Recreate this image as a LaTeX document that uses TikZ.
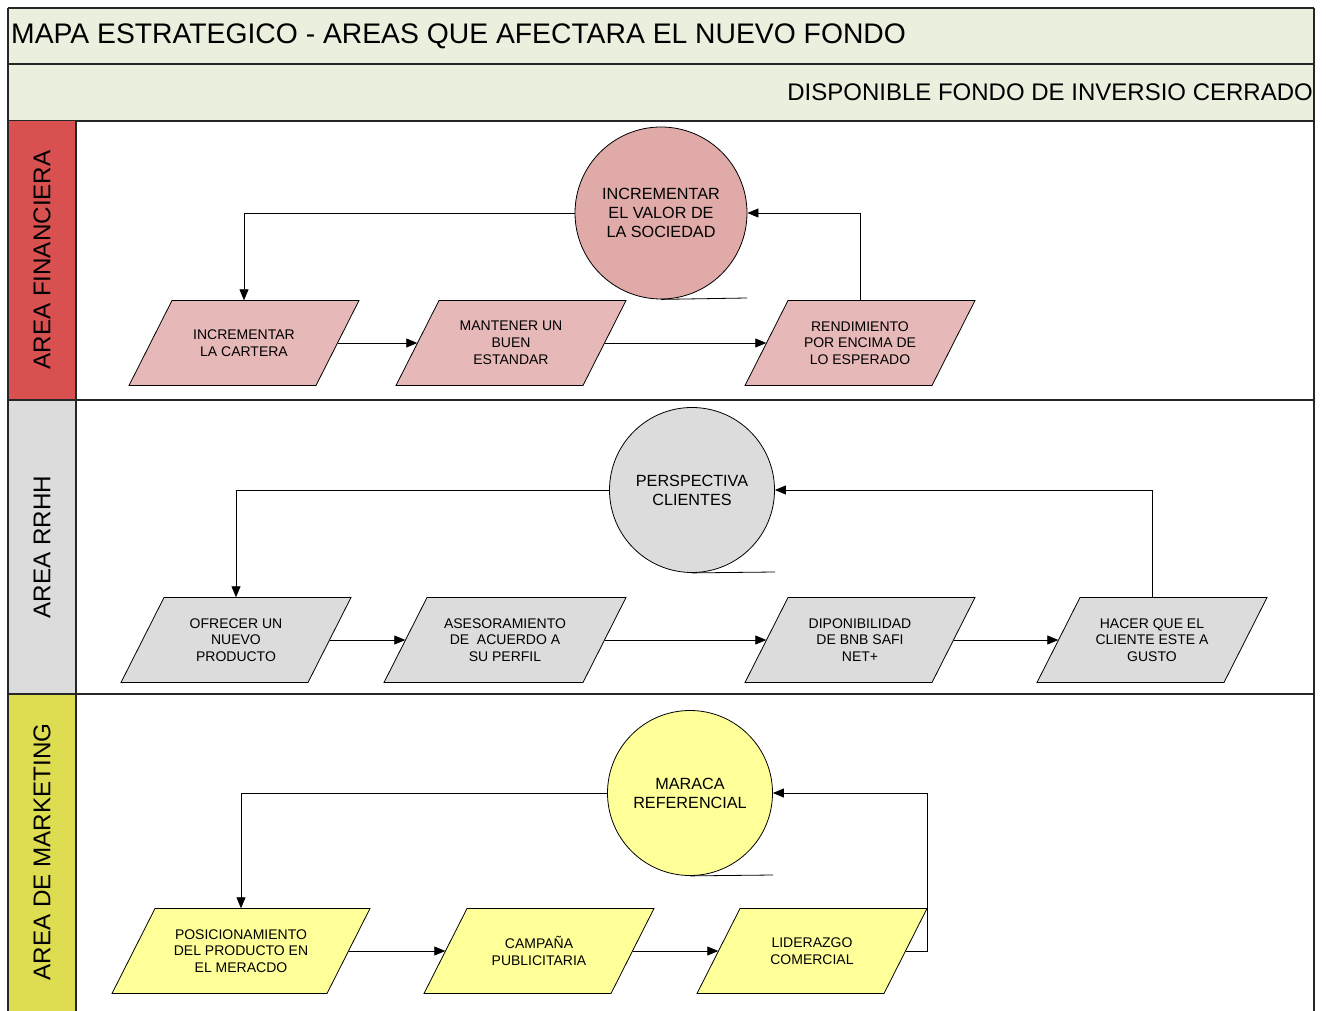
\documentclass[tikz,border=0pt]{standalone}
\usepackage{fontspec}
\setmainfont{Liberation Sans}
\usetikzlibrary{arrows.meta}
\definecolor{hdr}{HTML}{EBEFDE}
\definecolor{finlab}{HTML}{D95050}
\definecolor{fincirc}{HTML}{E0AAA8}
\definecolor{finpara}{HTML}{E6B9B8}
\definecolor{rhlab}{HTML}{DCDCDC}
\definecolor{rhfill}{HTML}{DCDCDC}
\definecolor{mklab}{HTML}{DEDC50}
\definecolor{mkfill}{HTML}{FFFF99}
\newcommand\parabox[6]{%
  \filldraw[fill=#5, draw=black, line width=0.8pt]
    ({#2-#4/2+21.5},{#3-42.5}) -- ({#2+#4/2+21.5},{#3-42.5}) --
    ({#2+#4/2-21.5},{#3+42.5}) -- ({#2-#4/2-21.5},{#3+42.5}) -- cycle;
  \node[ptext, minimum width=#4pt] (#1) at (#2,#3) {#6};}
\begin{document}
\begin{tikzpicture}[x=1pt,y=-1pt,
  ptext/.style={draw=none, minimum height=85pt, inner sep=0pt, align=center,
     font=\fontsize{14}{16.8}\selectfont},
  ctext/.style={circle, draw=black, line width=0.8pt, minimum size=#1, inner sep=0pt,
     align=center, font=\fontsize{16.2}{19}\selectfont},
  lanelab/.style={rotate=90, font=\fontsize{24.2}{28}\selectfont},
  arr/.style={-{Triangle[length=11pt,width=9pt]}, line width=0.8pt},
  conn/.style={line width=0.8pt},
  frame/.style={line width=1.3pt, draw=black!85}]
\useasboundingbox (0,0) rectangle (1326,1011);
% header bands
\fill[hdr] (8,8) rectangle (1314,121);
\draw[frame] (8,8) -- (1314,8);
\draw[frame] (8,64) -- (1314,64);
\draw[frame] (8,121) -- (1314,121);
% lane label columns
\fill[finlab] (8,121) rectangle (76,400);
\fill[rhlab] (8,400) rectangle (76,694);
\fill[mklab] (8,694) rectangle (76,1011);
\draw[frame] (8,400) -- (1314,400);
\draw[frame] (8,694) -- (1314,694);
\draw[frame] (8,8) -- (8,1011);
\draw[frame] (1314,8) -- (1314,1011);
\draw[frame] (76,121) -- (76,1011);
% header texts
\node[anchor=west, inner sep=0pt, font=\fontsize{28.3}{32}\selectfont] (title) at (11,36.5) {MAPA ESTRATEGICO - AREAS QUE AFECTARA EL NUEVO FONDO};
\node[anchor=east, inner sep=0pt, font=\fontsize{24}{28}\selectfont] (sub) at (1313,92) {DISPONIBLE FONDO DE INVERSIO CERRADO};
% lane labels
\node[lanelab] (lfin) at (42,260) {AREA FINANCIERA};
\node[lanelab] (lrh) at (42,547) {AREA RRHH};
\node[lanelab] (lmk) at (42,852) {AREA DE MARKETING};
% ---------- Area financiera
\node[ctext=172pt, fill=fincirc] (c1) at (661,213) {INCREMENTAR\\EL VALOR DE\\LA SOCIEDAD};
\coordinate (c1t) at (747,298);
\draw[conn] (c1.south) -- (c1t);
\parabox{p1}{244}{343}{187}{finpara}{INCREMENTAR\\LA CARTERA}
\parabox{p2}{511}{343}{187}{finpara}{MANTENER UN\\BUEN\\ESTANDAR}
\parabox{p3}{860}{343}{187}{finpara}{RENDIMIENTO\\POR ENCIMA DE\\LO ESPERADO}
\draw[arr] (c1.west) -| (p1.north);
\draw[arr] (p1.east) -- (p2.west);
\draw[arr] (p2.east) -- (p3.west);
\draw[arr] (p3.north) |- (c1.east);
% ---------- Area RRHH
\node[ctext=165pt, fill=rhfill] (c2) at (692,490) {PERSPECTIVA\\CLIENTES};
\coordinate (c2t) at (775,572);
\draw[conn] (c2.south) -- (c2t);
\parabox{q1}{236}{640}{187}{rhfill}{OFRECER UN\\NUEVO\\PRODUCTO}
\parabox{q2}{505}{640}{199}{rhfill}{ASESORAMIENTO\\DE~~ACUERDO A\\SU PERFIL}
\parabox{q3}{860}{640}{187}{rhfill}{DIPONIBILIDAD\\DE BNB SAFI\\NET+}
\parabox{q4}{1152}{640}{187}{rhfill}{HACER QUE EL\\CLIENTE ESTE A\\GUSTO}
\draw[arr] (c2.west) -| (q1.north);
\draw[arr] (q1.east) -- (q2.west);
\draw[arr] (q2.east) -- (q3.west);
\draw[arr] (q3.east) -- (q4.west);
\draw[arr] (q4.north) |- (c2.east);
% ---------- Area de marketing
\node[ctext=165pt, fill=mkfill] (c3) at (690,793) {MARACA\\REFERENCIAL};
\coordinate (c3t) at (773,875);
\draw[conn] (c3.south) -- (c3t);
\parabox{r1}{241}{951}{215}{mkfill}{POSICIONAMIENTO\\DEL PRODUCTO EN\\EL MERACDO}
\parabox{r2}{539}{951}{187}{mkfill}{CAMPAÑA\\PUBLICITARIA}
\parabox{r3}{812}{951}{187}{mkfill}{LIDERAZGO\\COMERCIAL}
\coordinate (m3) at (927,951);
\draw[arr] (c3.west) -| (r1.north);
\draw[arr] (r1.east) -- (r2.west);
\draw[arr] (r2.east) -- (r3.west);
\draw[arr] (r3.east) -- (m3) |- (c3.east);
\end{tikzpicture}
\end{document}
